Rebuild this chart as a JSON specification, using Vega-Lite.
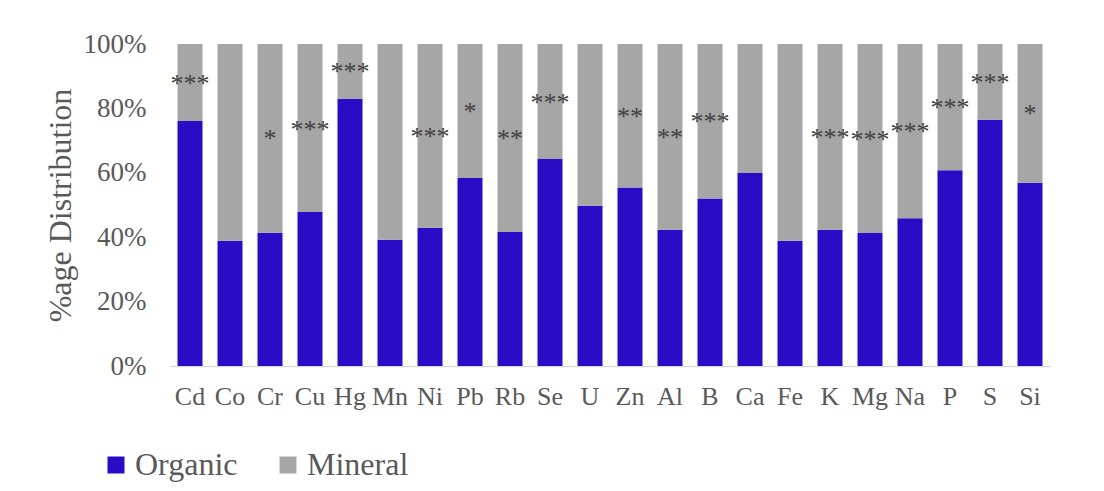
{
  "$schema": "https://vega.github.io/schema/vega-lite/v6.json",
  "width": 880,
  "height": 322,
  "autosize": {"type": "none"},
  "padding": {"left": 170, "top": 44, "right": 54, "bottom": 125},
  "background": "white",
  "config": {
    "font": "Liberation Serif",
    "view": {"stroke": null},
    "axis": {"labelFont": "Liberation Serif", "titleFont": "Liberation Serif", "labelColor": "#595959", "titleColor": "#595959"},
    "legend": {"labelFont": "Liberation Serif"}
  },
  "datasets": {
    "bars": [
      {"element": "Cd", "type": "Organic", "value": 76.1}, {"element": "Cd", "type": "Mineral", "value": 23.9},
      {"element": "Co", "type": "Organic", "value": 38.9}, {"element": "Co", "type": "Mineral", "value": 61.1},
      {"element": "Cr", "type": "Organic", "value": 41.4}, {"element": "Cr", "type": "Mineral", "value": 58.6},
      {"element": "Cu", "type": "Organic", "value": 47.8}, {"element": "Cu", "type": "Mineral", "value": 52.2},
      {"element": "Hg", "type": "Organic", "value": 83.0}, {"element": "Hg", "type": "Mineral", "value": 17.0},
      {"element": "Mn", "type": "Organic", "value": 39.2}, {"element": "Mn", "type": "Mineral", "value": 60.8},
      {"element": "Ni", "type": "Organic", "value": 42.9}, {"element": "Ni", "type": "Mineral", "value": 57.1},
      {"element": "Pb", "type": "Organic", "value": 58.4}, {"element": "Pb", "type": "Mineral", "value": 41.6},
      {"element": "Rb", "type": "Organic", "value": 41.6}, {"element": "Rb", "type": "Mineral", "value": 58.4},
      {"element": "Se", "type": "Organic", "value": 64.3}, {"element": "Se", "type": "Mineral", "value": 35.7},
      {"element": "U", "type": "Organic", "value": 49.8}, {"element": "U", "type": "Mineral", "value": 50.2},
      {"element": "Zn", "type": "Organic", "value": 55.4}, {"element": "Zn", "type": "Mineral", "value": 44.6},
      {"element": "Al", "type": "Organic", "value": 42.3}, {"element": "Al", "type": "Mineral", "value": 57.7},
      {"element": "B", "type": "Organic", "value": 52.0}, {"element": "B", "type": "Mineral", "value": 48.0},
      {"element": "Ca", "type": "Organic", "value": 59.9}, {"element": "Ca", "type": "Mineral", "value": 40.1},
      {"element": "Fe", "type": "Organic", "value": 38.9}, {"element": "Fe", "type": "Mineral", "value": 61.1},
      {"element": "K", "type": "Organic", "value": 42.3}, {"element": "K", "type": "Mineral", "value": 57.7},
      {"element": "Mg", "type": "Organic", "value": 41.3}, {"element": "Mg", "type": "Mineral", "value": 58.7},
      {"element": "Na", "type": "Organic", "value": 45.9}, {"element": "Na", "type": "Mineral", "value": 54.1},
      {"element": "P", "type": "Organic", "value": 60.8}, {"element": "P", "type": "Mineral", "value": 39.2},
      {"element": "S", "type": "Organic", "value": 76.5}, {"element": "S", "type": "Mineral", "value": 23.5},
      {"element": "Si", "type": "Organic", "value": 56.9}, {"element": "Si", "type": "Mineral", "value": 43.1}
    ],
    "sig": [
      {"element": "Cd", "label": "***", "pos": 89.1},
      {"element": "Cr", "label": "*", "pos": 72.0},
      {"element": "Cu", "label": "***", "pos": 75.0},
      {"element": "Hg", "label": "***", "pos": 93.0},
      {"element": "Ni", "label": "***", "pos": 72.7},
      {"element": "Pb", "label": "*", "pos": 80.5},
      {"element": "Rb", "label": "**", "pos": 72.0},
      {"element": "Se", "label": "***", "pos": 83.3},
      {"element": "Zn", "label": "**", "pos": 79.0},
      {"element": "Al", "label": "**", "pos": 72.3},
      {"element": "B", "label": "***", "pos": 77.4},
      {"element": "K", "label": "***", "pos": 72.5},
      {"element": "Mg", "label": "***", "pos": 71.7},
      {"element": "Na", "label": "***", "pos": 74.3},
      {"element": "P", "label": "***", "pos": 81.8},
      {"element": "S", "label": "***", "pos": 89.5},
      {"element": "Si", "label": "*", "pos": 79.8}
    ]
  },
  "layer": [
    {
      "data": {"name": "bars"},
      "mark": {"type": "bar"},
      "encoding": {
        "x": {
          "field": "element", "type": "nominal", "sort": null,
          "scale": {"paddingInner": 0.375, "paddingOuter": 0.1875},
          "axis": {"title": null, "labelAngle": 0, "labelFontSize": 26, "labelPadding": 17, "ticks": false, "domainColor": "#d9d9d9", "domainWidth": 1.5}
        },
        "y": {
          "field": "value", "type": "quantitative", "stack": "zero",
          "scale": {"domain": [0, 100], "nice": false},
          "axis": {
            "title": "%age Distribution", "values": [0, 20, 40, 60, 80, 100],
            "labelExpr": "datum.value + '%'", "labelFontSize": 27, "labelPadding": 24,
            "domain": false, "ticks": false, "grid": false,
            "titleFontSize": 32, "titleFontWeight": "normal", "titleX": -110, "titleY": 161, "titleBaseline": "middle", "titleAngle": -90, "titleAlign": "center"
          }
        },
        "color": {
          "field": "type", "type": "nominal", "sort": ["Organic", "Mineral"],
          "scale": {"domain": ["Organic", "Mineral"], "range": ["#2b0cc6", "#a6a6a6"]},
          "legend": {
            "title": null, "orient": "none", "direction": "horizontal", "legendX": -70, "legendY": 405,
            "symbolType": "square", "symbolSize": 289, "symbolStrokeWidth": 0, "symbolOpacity": 1,
            "labelFontSize": 32, "labelColor": "#595959", "labelOffset": 3, "columnPadding": 34, "padding": 0
          }
        },
        "order": {"field": "type", "sort": "descending"}
      }
    },
    {
      "data": {"name": "sig"},
      "mark": {"type": "text", "font": "Liberation Serif", "fontSize": 26, "color": "#404040", "baseline": "alphabetic", "dy": 13},
      "encoding": {
        "x": {"field": "element", "type": "nominal", "sort": null},
        "y": {"field": "pos", "type": "quantitative"},
        "text": {"field": "label"}
      }
    }
  ]
}
